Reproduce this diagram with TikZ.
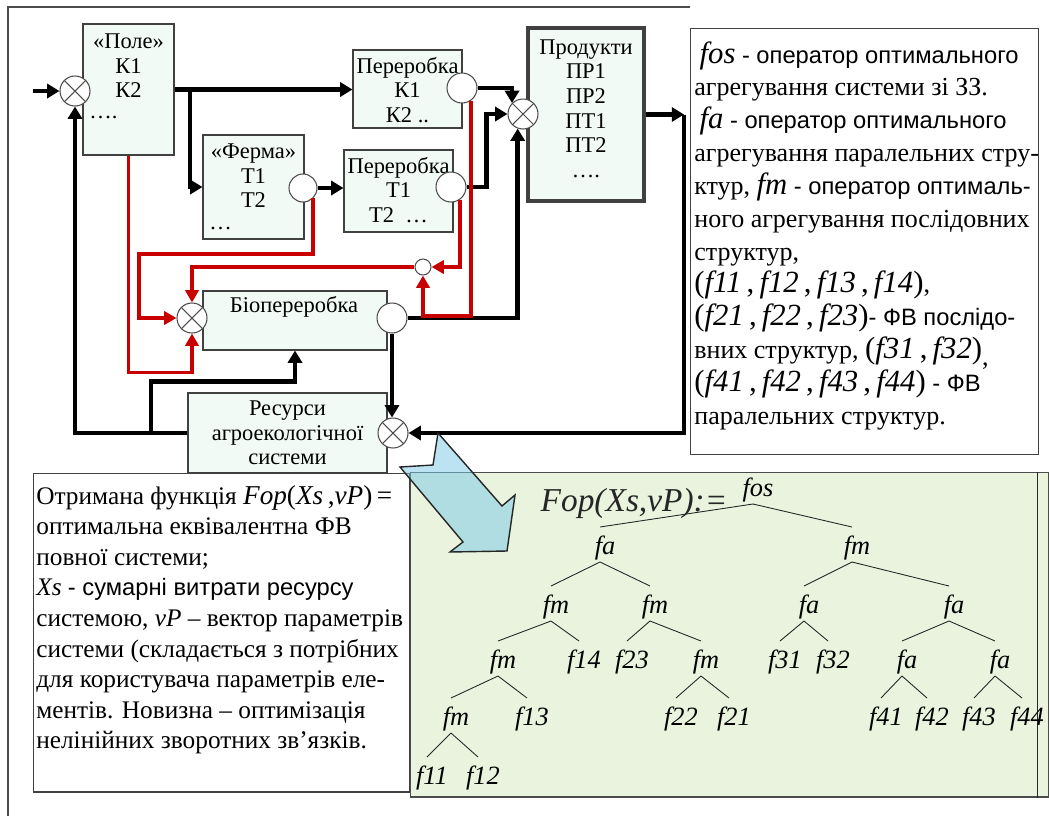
\documentclass[tikz,border=0pt]{standalone}
\usepackage{fontspec}
\setmainfont{Liberation Serif}
\newfontfamily\arialfont{Liberation Sans}
\usepackage{xcolor}
\usetikzlibrary{positioning, arrows.meta, calc}
\definecolor{boxfill}{RGB}{242, 250, 246}
\definecolor{fbred}{RGB}{200, 0, 0}
\definecolor{treegreen}{RGB}{233, 243, 222}
\definecolor{arrowblue}{RGB}{120, 200, 230}
\newcommand{\sanspart}[1]{{\arialfont\fontsize{13.5pt}{17pt}\selectfont #1}}
\newcommand{\fvset}[1]{{\fontsize{17.5pt}{17.5pt}\selectfont #1}}

\begin{document}
\begin{tikzpicture}[
    x=0.02cm, y=-0.02cm,
    % -------------------------------------------------
    % Blocks
    % -------------------------------------------------
    blockbox/.style={
        rectangle,
        draw=black!75,
        line width=0.6pt,
        fill=boxfill
    },
    blocktext/.style={
        align=center,
        inner sep=0pt,
        font=\fontsize{12.8pt}{14pt}\selectfont
    },
    sumjunc/.style={
        circle,
        draw=black!70,
        line width=0.6pt,
        fill=white,
        minimum size=0.6cm,
        inner sep=0pt,
        path picture={
            \draw[black!70] (path picture bounding box.north west) -- (path picture bounding box.south east)
                (path picture bounding box.north east) -- (path picture bounding box.south west);
        }
    },
    outport/.style={
        circle,
        draw=black!70,
        line width=0.6pt,
        fill=white,
        minimum size=0.6cm,
        inner sep=0pt
    },
    % -------------------------------------------------
    % Connections
    % -------------------------------------------------
    flow/.style={
        line width=2.6pt,
        -{Triangle[length=7pt, width=8pt]}
    },
    fbflow/.style={
        draw=fbred,
        line width=2.2pt,
        -{Triangle[length=7pt, width=7.5pt]}
    },
    frameline/.style={
        draw=black!70,
        line width=0.8pt
    },
    % -------------------------------------------------
    % Notes and tree
    % -------------------------------------------------
    notebox/.style={
        rectangle,
        draw=black!75,
        line width=0.6pt,
        fill=white
    },
    notetext/.style={
        align=left,
        inner sep=0pt,
        anchor=north west,
        font=\fontsize{14.8pt}{18.7pt}\selectfont
    },
    treebox/.style={
        rectangle,
        draw=black!70,
        line width=0.6pt,
        fill=treegreen
    },
    treelab/.style={
        inner sep=0pt,
        font=\fontsize{15pt}{15pt}\selectfont\itshape
    },
    branch/.style={
        draw=black!85,
        line width=0.5pt
    },
    bigarrow/.style={
        draw=black!85,
        line width=0.8pt,
        fill=arrowblue,
        fill opacity=0.5,
        draw opacity=1
    }
]

\useasboundingbox (0,0) rectangle (1049,816);

% =====================================================
% Frame
% =====================================================

\draw[frameline] (690,7) -- (8,7) -- (8,816);

% =====================================================
% Blocks
% =====================================================

\node[blockbox, minimum width=1.82cm, minimum height=2.62cm] (pole) at (128.5,89.5) {};
\node[blocktext] (poletxt) at (128.5,66) {«Поле»\\К1\\К2};
\node[blocktext, anchor=west] (poledots) at (89,117) {….};

\node[blockbox, minimum width=2.02cm, minimum height=2.08cm] (ferma) at (253.5,187) {};
\node[blocktext] (fermatxt) at (253.5,176) {«Ферма»\\Т1\\Т2};
\node[blocktext, anchor=west] (fermadots) at (209,228) {…};

\node[blockbox, minimum width=2.18cm, minimum height=1.56cm] (perk) at (407.5,89) {};
\node[blocktext] (perktxt) at (407.5,90) {Переробка\\К1\\К2 ..};

\node[blockbox, minimum width=2.18cm, minimum height=1.64cm] (pert) at (398.5,191) {};
\node[blocktext] (perttxt) at (398.5,190) {Переробка\\Т1\\Т2\enspace …};

\node[blockbox, line width=2.4pt, minimum width=2.32cm, minimum height=3.46cm] (prod) at (586,114.5) {};
\node[blocktext] (prodtxt) at (586,108.5) {Продукти\\ПР1\\ПР2\\ПТ1\\ПТ2\\….};

\node[blockbox, minimum width=3.68cm, minimum height=1.18cm] (bio) at (295,320.5) {};
\node[blocktext] (biotxt) at (294,307) {Біопереробка};

\node[blockbox, minimum width=3.98cm, minimum height=1.6cm] (res) at (287.5,433) {};
\node[blocktext] (restxt) at (287.5,433) {Ресурси\\агроекологічної\\системи};

% =====================================================
% Junctions and outputs
% =====================================================

\node[sumjunc] (sum1) at (75,91) {};
\node[sumjunc] (sum2) at (523,114) {};
\node[sumjunc] (sum3) at (393,433) {};
\node[sumjunc] (sum4) at (192,318) {};

\node[outport] (kout) at (462,88) {};
\node[outport] (tout) at (451,187) {};
\node[outport, minimum size=0.56cm] (fout) at (303,188) {};
\node[outport] (bioout) at (392,318) {};
\node[outport, minimum size=0.32cm] (mixc) at (423,267) {};

\coordinate (input) at (33,91);
\coordinate (split1) at (190,89.5);
\coordinate (split2) at (151,433);
\coordinate (corner1) at ($(prod.east)+(38,0)$);

% =====================================================
% Main flow
% =====================================================

\draw[flow] (input) -- (sum1.west);

\draw[flow] (pole.east) -- (pole.east -| perk.west);

\draw[flow] (split1) |- (ferma.west);

\draw[flow] (fout.east) -- (fout.east -| pert.west);

\draw[flow] (kout.east) -| (sum2.north west);

\draw[flow] (tout.east) -- ++(20,0) |- (sum2.west);

\draw[flow] (bioout.east) -| (sum2.250);

\draw[flow] (bioout.south) -- (bioout.south |- sum3.north);

% =====================================================
% Feedback through resources
% =====================================================

\draw[flow] (prod.east) -- (corner1);

\draw[flow] (corner1) |- (sum3.east);

\draw[flow] (res.west) -| (sum1.south);

\draw[flow] (split2) |- ($(bio.south)+(0,31)$) -- (bio.south);

% =====================================================
% Waste to bio-processing
% =====================================================

\draw[fbflow] (pole.south) |- ($(sum4.south)+(0,39)$) -- (sum4.south);

\draw[fbflow] (fout.-45) |- (139,254) |- (sum4.west);

\draw[fbflow] (kout.-55) |- (423,316) -- (mixc.south);

\draw[fbflow] (tout.-55) |- (mixc.east);

\draw[fbflow] (mixc.west) -| (sum4.north);

% =====================================================
% Legend
% =====================================================

\node[notebox, minimum width=6.98cm, minimum height=8.54cm] (legend) at (864.5,241.5) {};
\node[notetext] (legendtxt) at (694,41) {%
\hspace{3pt}\fvset{\textit{fos}} \sanspart{- оператор оптимального}\\
агрегування системи зі ЗЗ.\\
\hspace{3pt}\fvset{\textit{fa}} \sanspart{- оператор оптимального}\\
агрегування паралельних стру-\\
ктур, \fvset{\textit{fm}} \sanspart{- оператор оптималь-}\\
ного агрегування послідовних\\
структур,\\
\fvset{(\textit{f11}\,,\,\textit{f12}\,,\,\textit{f13}\,,\,\textit{f14})},\\
\fvset{(\textit{f21}\,,\,\textit{f22}\,,\,\textit{f23})}\sanspart{- ФВ послідо-}\\
вних структур, \fvset{(\textit{f31}\,,\,\textit{f32})}\raisebox{-0.6ex}{,}\\
\fvset{(\textit{f41}\,,\,\textit{f42}\,,\,\textit{f43}\,,\,\textit{f44})} \sanspart{- ФВ}\\
паралельних структур.};

% =====================================================
% Aggregation tree
% =====================================================

\node[treebox, minimum width=12.78cm, minimum height=6.5cm] (treepanel) at (729.5,634.5) {};
\draw[branch] ($(treepanel.north east)+(-12,0)$) -- ($(treepanel.south east)+(-12,0)$);

\node[inner sep=0pt, font=\fontsize{19pt}{19pt}\selectfont\itshape, text=black!85] (fop) at (634,503) {Fop(Xs,vP):=};

\node[treelab] (fos) at (758,490) {fos};

\node[treelab] (fa1) at (605,548) {fa};
\node[treelab] (fm1) at (857,548) {fm};

\node[treelab] (fm2) at (556,607) {fm};
\node[treelab] (fm3) at (655,607) {fm};
\node[treelab] (fa2) at (809,607) {fa};
\node[treelab] (fa3) at (954,607) {fa};

\node[treelab] (fm4) at (503,662) {fm};
\node[treelab] (f14) at (584,662) {f14};
\node[treelab] (f23) at (632,662) {f23};
\node[treelab] (fm5) at (706,662) {fm};
\node[treelab] (f31) at (785,662) {f31};
\node[treelab] (f32) at (833,662) {f32};
\node[treelab] (fa4) at (907,662) {fa};
\node[treelab] (fa5) at (1000,662) {fa};

\node[treelab] (fm6) at (456,719) {fm};
\node[treelab] (f13) at (532,719) {f13};
\node[treelab] (f22) at (681,719) {f22};
\node[treelab] (f21) at (734,719) {f21};
\node[treelab] (f41) at (886,719) {f41};
\node[treelab] (f42) at (932,719) {f42};
\node[treelab] (f43) at (979,719) {f43};
\node[treelab] (f44) at (1027,719) {f44};

\node[treelab] (f11) at (432,778) {f11};
\node[treelab] (f12) at (483,778) {f12};

\draw[branch] ($(fos)+(-5,14)$) -- ($(fa1)+(-5,-21)$);
\draw[branch] ($(fos)+(-5,14)$) -- ($(fm1)+(-5,-21)$);

\draw[branch] ($(fa1)+(-5,14)$) -- ($(fm2)+(-5,-21)$);
\draw[branch] ($(fa1)+(-5,14)$) -- ($(fm3)+(-5,-21)$);
\draw[branch] ($(fm1)+(-5,14)$) -- ($(fa2)+(-5,-21)$);
\draw[branch] ($(fm1)+(-5,14)$) -- ($(fa3)+(-5,-21)$);

\draw[branch] ($(fm2)+(-5,14)$) -- ($(fm4)+(-5,-21)$);
\draw[branch] ($(fm2)+(-5,14)$) -- ($(f14)+(-5,-21)$);
\draw[branch] ($(fm3)+(-5,14)$) -- ($(f23)+(-5,-21)$);
\draw[branch] ($(fm3)+(-5,14)$) -- ($(fm5)+(-5,-21)$);
\draw[branch] ($(fa2)+(-5,14)$) -- ($(f31)+(-5,-21)$);
\draw[branch] ($(fa2)+(-5,14)$) -- ($(f32)+(-5,-21)$);
\draw[branch] ($(fa3)+(-5,14)$) -- ($(fa4)+(-5,-21)$);
\draw[branch] ($(fa3)+(-5,14)$) -- ($(fa5)+(-5,-21)$);

\draw[branch] ($(fm4)+(-5,14)$) -- ($(fm6)+(-5,-21)$);
\draw[branch] ($(fm4)+(-5,14)$) -- ($(f13)+(-5,-21)$);
\draw[branch] ($(fm5)+(-5,14)$) -- ($(f22)+(-5,-21)$);
\draw[branch] ($(fm5)+(-5,14)$) -- ($(f21)+(-5,-21)$);
\draw[branch] ($(fa4)+(-5,14)$) -- ($(f41)+(-5,-21)$);
\draw[branch] ($(fa4)+(-5,14)$) -- ($(f42)+(-5,-21)$);
\draw[branch] ($(fa5)+(-5,14)$) -- ($(f43)+(-5,-21)$);
\draw[branch] ($(fa5)+(-5,14)$) -- ($(f44)+(-5,-21)$);

\draw[branch] ($(fm6)+(-5,14)$) -- ($(f11)+(-5,-21)$);
\draw[branch] ($(fm6)+(-5,14)$) -- ($(f12)+(-5,-21)$);

% =====================================================
% Summary
% =====================================================

\node[notebox, minimum width=7.54cm, minimum height=6.38cm] (summary) at (221.5,632.5) {};
\node[notetext, font=\fontsize{14.4pt}{17.4pt}\selectfont] (summarytxt) at (36,485) {%
Отримана функція {\fontsize{15.5pt}{15.5pt}\selectfont\textit{Fop}(\textit{Xs}\,,\textit{vP})\,=}\\
оптимальна еквівалентна ФВ\\
повної системи;\\
\textit{Xs} \sanspart{- сумарні витрати ресурсу}\\
системою, \textit{vP} – вектор параметрів\\
системи (складається з потрібних\\
для користувача параметрів еле-\\
ментів. Новизна – оптимізація\\
нелінійних зворотних зв’язків.};

\draw[bigarrow] (438,433) -- (502,506) -- (515,495) -- (507,551) -- (450,552)
    -- (463,542) -- (400,467) -- (433,465) -- cycle;

\end{tikzpicture}
\end{document}
